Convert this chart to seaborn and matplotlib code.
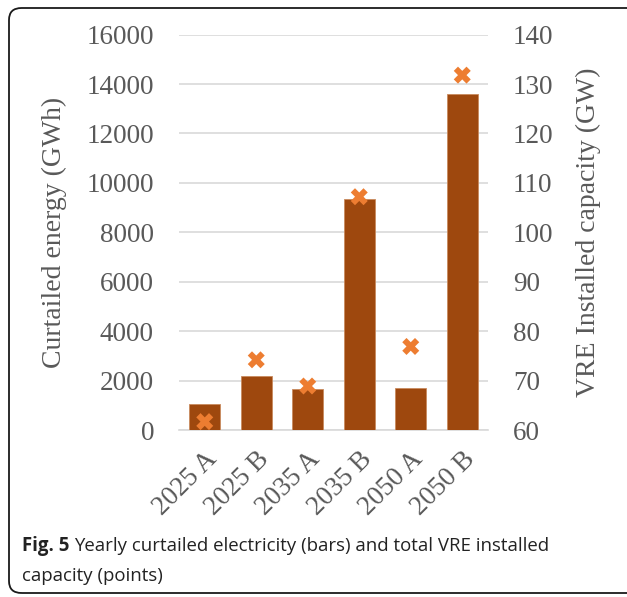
import numpy as np
import pandas as pd
import matplotlib
matplotlib.use("Agg")
import matplotlib.pyplot as plt
from matplotlib.patches import FancyBboxPatch
import seaborn as sns

categories = ["2025 A", "2025 B", "2035 A", "2035 B", "2050 A", "2050 B"]
curtailed_gwh = [1050, 2200, 1650, 9330, 1700, 13600]
vre_capacity_gw = [61.7, 74.2, 68.9, 107.2, 76.9, 131.8]
left_ticks = [0, 2000, 4000, 6000, 8000, 10000, 12000, 14000, 16000]
right_ticks = [60, 70, 80, 90, 100, 110, 120, 130, 140]

sns.set_theme(style="white")
plt.rcParams["font.family"] = ["Liberation Serif", "DejaVu Serif"]

bar_color = "#9E480E"
marker_color = "#ED7D31"
text_color = "#595959"
grid_color = "#D9D9D9"

df = pd.DataFrame({"cat": categories, "gwh": curtailed_gwh, "gw": vre_capacity_gw})

fig = plt.figure(figsize=(6.27, 5.97), dpi=100)
ax = fig.add_axes([179/627, 1 - 430/597, (488 - 179)/627, (430 - 34.6)/597])

sns.barplot(data=df, x="cat", y="gwh", order=categories, color=bar_color,
            saturation=1, width=0.6, ax=ax, edgecolor="#C98A5E", linewidth=0.6, zorder=3)
ax.set_xlim(-0.5, len(categories) - 0.5)
ax.set_ylim(0, 16000)
ax.set_yticks(left_ticks)
ax.set_yticklabels([str(t) for t in left_ticks])
ax.yaxis.grid(True, color=grid_color, linewidth=1.2, zorder=0)
ax.set_axisbelow(True)
for s in ["top", "right", "left"]:
    ax.spines[s].set_visible(False)
ax.spines["bottom"].set_color(grid_color)
ax.spines["bottom"].set_linewidth(1.2)
ax.tick_params(axis="both", length=0, labelsize=19.5, labelcolor=text_color)
ax.tick_params(axis="y", pad=18)
ax.set_xlabel("")
ax.set_ylabel("Curtailed energy (GWh)", fontsize=20, color=text_color, labelpad=14)
plt.setp(ax.get_xticklabels(), rotation=45, ha="right", rotation_mode="anchor")
ax.tick_params(axis="x", pad=12)

ax2 = ax.twinx()
sns.scatterplot(x=np.arange(len(categories)), y=vre_capacity_gw, ax=ax2,
                marker="X", s=150, color=marker_color, edgecolor="none", zorder=5)
ax2.set_ylim(60, 140)
ax2.set_yticks(right_ticks)
ax2.set_yticklabels([str(t) for t in right_ticks])
for s in ["top", "right", "left", "bottom"]:
    ax2.spines[s].set_visible(False)
ax2.tick_params(axis="y", length=0, labelsize=19.5, labelcolor=text_color, pad=18)
ax2.set_ylabel("VRE Installed capacity (GW)", fontsize=20, color=text_color, labelpad=16)
ax2.grid(False)

# caption
cap_size = 13.4
cap_y1 = 1 - 546/597
t1 = fig.text(22/627, cap_y1, "Fig. 5", fontsize=cap_size, va="center", ha="left",
              family="Open Sans", weight="bold", color="#222222")
fig.canvas.draw()
bb = t1.get_window_extent()
fig.text((bb.x1 + 5)/627, cap_y1, "Yearly curtailed electricity (bars) and total VRE installed",
         fontsize=cap_size, va="center", ha="left", family="Open Sans", color="#222222")
fig.text(22/627, 1 - 576/597, "capacity (points)", fontsize=cap_size, va="center", ha="left",
         family="Open Sans", color="#222222")

frame = FancyBboxPatch((9/627, 4/597), 1.1, 1 - 12/597, boxstyle="round,pad=0,rounding_size=0.02",
                       transform=fig.transFigure, fill=False, edgecolor="#1a1a1a",
                       linewidth=1.3, clip_on=False)
fig.patches.append(frame)

fig.savefig("out.png", dpi=100)
